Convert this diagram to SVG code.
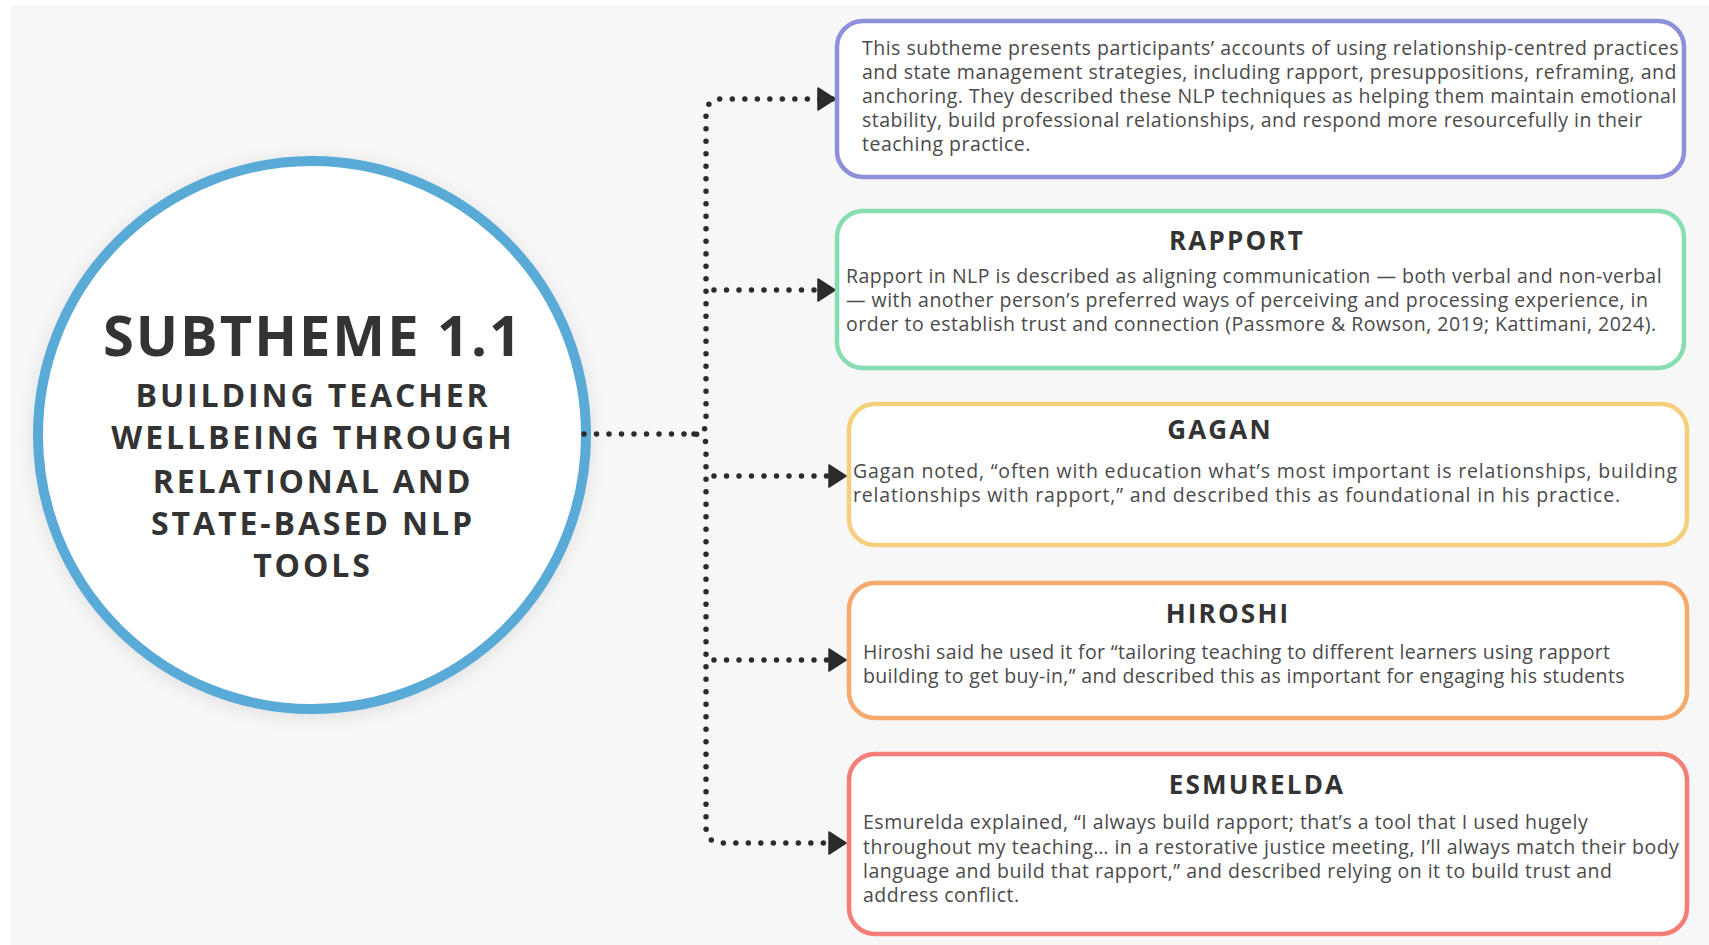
<svg xmlns="http://www.w3.org/2000/svg" width="1709" height="945" viewBox="0 0 1709 945">
  <defs>
    <style>
      .body { font-family: "Open Sans", "Liberation Sans", sans-serif; font-size: 19.5px; letter-spacing: 0.5px; fill: #4a4a4a; }
      .wide { letter-spacing: 0.82px; }
      .tight { letter-spacing: 0.36px; }
      .title { font-family: "Open Sans", "Liberation Sans", sans-serif; font-size: 26px; font-weight: 700; fill: #333333; letter-spacing: 2.2px; text-anchor: middle; }
      .hub-title { font-family: "Open Sans", "Liberation Sans", sans-serif; font-weight: 700; fill: #333333; text-anchor: middle; }
      .card { fill: #ffffff; stroke-width: 4.5; }
      .link { fill: none; stroke: #2b2b2b; stroke-width: 5.5; stroke-linecap: round; stroke-linejoin: round; stroke-dasharray: 0 12.5; }
    </style>
    <marker id="arrow" markerUnits="userSpaceOnUse" markerWidth="20" markerHeight="24" refX="18" refY="12" orient="auto">
      <path d="M1,1 L18,12 L1,23 Z" fill="#2b2b2b" stroke="#2b2b2b" stroke-width="1.5" stroke-linejoin="round"/>
    </marker>
    <filter id="glow" x="-20%" y="-20%" width="140%" height="140%">
      <feGaussianBlur stdDeviation="10"/>
    </filter>
  </defs>

  <!-- canvas -->
  <rect x="0" y="0" width="1709" height="945" fill="#ffffff"/>
  <rect x="11" y="5" width="1698" height="940" fill="#f7f7f7"/>

  <!-- central subtheme -->
  <g id="subtheme">
    <circle cx="312" cy="438" r="278" fill="#000000" opacity="0.10" filter="url(#glow)"/>
    <circle cx="312" cy="435" r="274" fill="#ffffff" stroke="#5aaad8" stroke-width="10"/>
    <text class="hub-title" x="313" y="356" font-size="56" letter-spacing="2">SUBTHEME 1.1</text>
    <text class="hub-title" x="313" y="407" font-size="32" letter-spacing="2.9">BUILDING TEACHER</text>
    <text class="hub-title" x="313" y="449" font-size="32" letter-spacing="2.9">WELLBEING THROUGH</text>
    <text class="hub-title" x="313" y="493" font-size="32" letter-spacing="2.9">RELATIONAL AND</text>
    <text class="hub-title" x="313" y="535" font-size="32" letter-spacing="2.9">STATE-BASED NLP</text>
    <text class="hub-title" x="313" y="577" font-size="32" letter-spacing="2.9">TOOLS</text>
  </g>

  <!-- connectors -->
  <g id="connectors">
    <path class="link" d="M584,434 H694 Q706,434 706,446 V827 Q706,843 722,843 H846" marker-end="url(#arrow)"/>
    <path class="link" d="M694,434 Q706,434 706,422 V115 Q706,99 722,99 H835" marker-end="url(#arrow)"/>
    <path class="link" d="M714,290 H835" marker-end="url(#arrow)"/>
    <path class="link" d="M714,476 H846" marker-end="url(#arrow)"/>
    <path class="link" d="M714,660 H846" marker-end="url(#arrow)"/>
  </g>

  <!-- overview card -->
  <g id="overview">
    <rect class="card" x="837" y="21" width="847" height="156" rx="26" stroke="#8e8fd9"/>
    <text class="body" x="862" y="55">This subtheme presents participants’ accounts of using relationship-centred practices</text>
    <text class="body" x="862" y="79">and state management strategies, including rapport, presuppositions, reframing, and</text>
    <text class="body" x="862" y="103">anchoring. They described these NLP techniques as helping them maintain emotional</text>
    <text class="body" x="862" y="127">stability, build professional relationships, and respond more resourcefully in their</text>
    <text class="body" x="862" y="151">teaching practice.</text>
  </g>

  <!-- rapport card -->
  <g id="rapport">
    <rect class="card" x="837" y="211" width="847" height="157" rx="26" stroke="#88ddb0"/>
    <text class="title" x="1237" y="250">RAPPORT</text>
    <text class="body" x="846" y="283">Rapport in NLP is described as aligning communication — both verbal and non-verbal</text>
    <text class="body" x="846" y="307">— with another person’s preferred ways of perceiving and processing experience, in</text>
    <text class="body" x="846" y="331">order to establish trust and connection (Passmore &amp; Rowson, 2019; Kattimani, 2024).</text>
  </g>

  <!-- Gagan card -->
  <g id="gagan">
    <rect class="card" x="849" y="404" width="838" height="141" rx="26" stroke="#f6cf7c"/>
    <text class="title" x="1220" y="439">GAGAN</text>
    <text class="body wide" x="853" y="478">Gagan noted, “often with education what’s most important is relationships, building</text>
    <text class="body wide" x="853" y="502">relationships with rapport,” and described this as foundational in his practice.</text>
  </g>

  <!-- Hiroshi card -->
  <g id="hiroshi">
    <rect class="card" x="849" y="583" width="838" height="135" rx="26" stroke="#f5a96c"/>
    <text class="title" x="1228" y="623">HIROSHI</text>
    <text class="body tight" x="863" y="659">Hiroshi said he used it for “tailoring teaching to different learners using rapport</text>
    <text class="body tight" x="863" y="683">building to get buy-in,” and described this as important for engaging his students</text>
  </g>

  <!-- Esmurelda card -->
  <g id="esmurelda">
    <rect class="card" x="849" y="754" width="838" height="180" rx="26" stroke="#f47e76"/>
    <text class="title" x="1257" y="794">ESMURELDA</text>
    <text class="body" x="863" y="829">Esmurelda explained, “I always build rapport; that’s a tool that I used hugely</text>
    <text class="body" x="863" y="854">throughout my teaching… in a restorative justice meeting, I’ll always match their body</text>
    <text class="body" x="863" y="878">language and build that rapport,” and described relying on it to build trust and</text>
    <text class="body" x="863" y="902">address conflict.</text>
  </g>
</svg>
